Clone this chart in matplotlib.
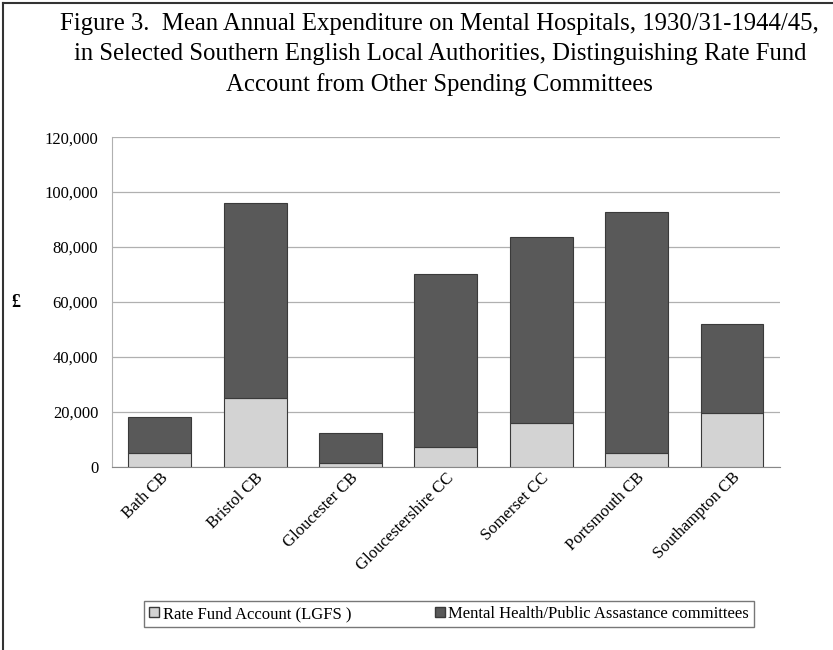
import numpy as np
import matplotlib.pyplot as plt
from matplotlib.ticker import FuncFormatter
from matplotlib.lines import Line2D

plt.rcParams['font.family'] = ['Liberation Serif', 'DejaVu Serif']

# data
authorities = ["Bath CB", "Bristol CB", "Gloucester CB", "Gloucestershire CC",
               "Somerset CC", "Portsmouth CB", "Southampton CB"]
rate_fund = [5200, 25100, 1600, 7300, 16100, 5100, 19600]
mental_health = [13000, 71000, 10900, 63000, 67500, 87600, 32500]
yticks = [0, 20000, 40000, 60000, 80000, 100000, 120000]

light = "#d3d3d3"
dark = "#595959"
edge = "#3a3a3a"

fig = plt.figure(figsize=(8.33, 6.5), dpi=100)
ax = fig.add_axes([0.1345, 0.2815, 0.8015, 0.5075])

x = np.arange(len(authorities))
ax.bar(x, rate_fund, width=0.66, color=light, edgecolor=edge, linewidth=0.8, zorder=3)
ax.bar(x, mental_health, width=0.66, bottom=rate_fund, color=dark, edgecolor=edge,
       linewidth=0.8, zorder=3)

ax.set_ylim(0, 120000)
ax.set_xlim(-0.5, len(authorities) - 0.5)
ax.set_yticks(yticks)
ax.yaxis.set_major_formatter(FuncFormatter(lambda v, p: f"{int(v):,}"))
ax.grid(axis="y", color="#b0b0b0", linewidth=0.9, zorder=0)
ax.tick_params(axis="y", length=0, labelsize=12, pad=10)
ax.tick_params(axis="x", length=0, labelsize=12, pad=2)
ax.set_xticks(x)
ax.set_xticklabels(authorities, rotation=45, ha="right", rotation_mode="anchor")
for s in ["top", "right"]:
    ax.spines[s].set_visible(False)
ax.spines["left"].set_color("#b0b0b0")
ax.spines["bottom"].set_color("#888888")

fig.text(0.014, 0.535, "£", fontsize=13, fontweight="bold", va="center")

title = ("Figure 3.  Mean Annual Expenditure on Mental Hospitals, 1930/31-1944/45,\n"
         "in Selected Southern English Local Authorities, Distinguishing Rate Fund\n"
         "Account from Other Spending Committees")
fig.text(0.528, 0.98, title, ha="center", va="top", fontsize=17.8, linespacing=1.45)

handles = [
    Line2D([0], [0], marker="s", color="w", markerfacecolor=light, markeredgecolor=edge,
           markersize=7, label="Rate Fund Account (LGFS )"),
    Line2D([0], [0], marker="s", color="w", markerfacecolor=dark, markeredgecolor=edge,
           markersize=7, label="Mental Health/Public Assastance committees"),
]
leg = fig.legend(handles=handles, loc="center", bbox_to_anchor=(0.539, 0.055), ncol=2,
                 frameon=True, fancybox=False, fontsize=12, handlelength=0.6,
                 handletextpad=0.2, columnspacing=5.0, borderpad=0.3,
                 borderaxespad=0)
leg.get_frame().set_edgecolor("#555555")
leg.get_frame().set_linewidth(1.0)

# frame along top and left of the figure
fig.add_artist(Line2D([0.004, 1.0], [0.995, 0.995], color="#333333", linewidth=1.5))
fig.add_artist(Line2D([0.004, 0.004], [0.0, 0.995], color="#333333", linewidth=1.5))

fig.savefig("out.png", dpi=100)
